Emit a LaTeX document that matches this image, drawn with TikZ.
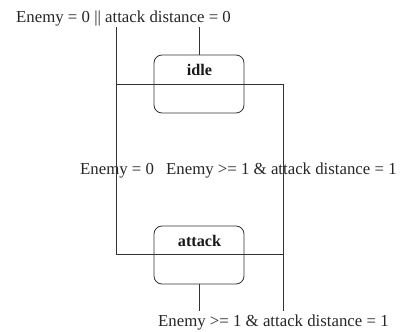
\documentclass[tikz,border=0pt]{standalone}
\usepackage{fontspec}
\setmainfont{Liberation Serif}
\begin{document}
\begin{tikzpicture}[x=1pt,y=-1pt,
  wire/.style={draw=black!80, line width=0.8pt},
  state/.style={draw=black!80, line width=0.8pt, rounded corners=8pt, minimum width=90pt, minimum height=58pt, inner sep=0pt},
  lbl/.style={inner sep=0pt, anchor=base west, font=\fontsize{16.8}{20}\selectfont, text=black!85},
  ttl/.style={inner sep=0pt, anchor=base, font=\fontsize{16.2}{20}\selectfont\bfseries, text=black!90}]
\useasboundingbox (0,0) rectangle (400,332);
% states
\node[state] (idle) at (199,84) {};
\node[state] (attack) at (199,255) {};
\node[ttl] (idlet) at (199.5,75) {idle};
\node[ttl] (attackt) at (199.5,246) {attack};
% labels
\node[lbl] (top) at (16,22.5) {Enemy = 0 || attack distance = 0};
\node[lbl] (midl) at (80,175) {Enemy = 0};
\node[lbl] (midr) at (166,175) {Enemy >= 1 \& attack distance = 1};
\node[lbl] (bot) at (158,326) {Enemy >= 1 \& attack distance = 1};
% coordinates
\coordinate (a1) at (116.5,27);
\coordinate (a2) at (116.5,254);
\coordinate (a3) at (283,254);
\coordinate (b1) at (116.5,84);
\coordinate (b2) at (283,84);
\coordinate (b3) at (283,311);
\coordinate (c1) at (199.5,27);
\coordinate (d1) at (199.5,311);
% connectors
\draw[wire] (a1) -- (a2) -- (a3);
\draw[wire] (b1) -- (b2) -- (b3);
\draw[wire] (c1) -- (idle.north -| c1);
\draw[wire] (attack.south -| d1) -- (d1);
\end{tikzpicture}
\end{document}
